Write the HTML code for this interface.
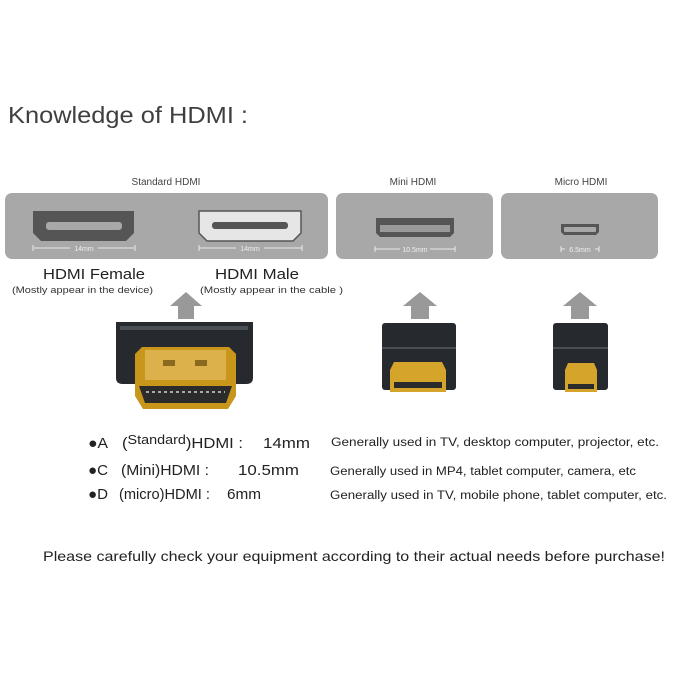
<!DOCTYPE html>
<html><head><meta charset="utf-8"><style>
html,body{margin:0;padding:0;background:#fff;}
svg{display:block;}
</style></head><body>
<svg width="680" height="680" viewBox="0 0 680 680" xmlns="http://www.w3.org/2000/svg" font-family="Liberation Sans, DejaVu Sans, sans-serif">
<rect width="680" height="680" fill="#fff"/>
<text x="8" y="123" font-size="23" fill="#3f3f3f" textLength="240" lengthAdjust="spacingAndGlyphs">Knowledge of HDMI :</text>

<text x="166" y="185" font-size="10" fill="#444" text-anchor="middle">Standard HDMI</text>
<text x="413" y="185" font-size="10" fill="#444" text-anchor="middle">Mini HDMI</text>
<text x="581" y="185" font-size="10" fill="#444" text-anchor="middle">Micro HDMI</text>

<rect x="5" y="193" width="323" height="66" rx="7" fill="#a8a8a8"/>
<rect x="336" y="193" width="157" height="66" rx="7" fill="#a8a8a8"/>
<rect x="501" y="193" width="157" height="66" rx="7" fill="#a8a8a8"/>

<path d="M33 211 H134 V233 L126 241 H41 L33 233 Z" fill="#555"/>
<rect x="46" y="222" width="76" height="8" rx="3" fill="#a8a8a8"/>
<path d="M199 211 H301 V233 L293 241 H207 L199 233 Z" fill="#e6e6e6" stroke="#555" stroke-width="1.5"/>
<rect x="212" y="222" width="76" height="7" rx="3" fill="#555"/>
<g stroke="#e8e8e8" stroke-width="1" fill="none">
<path d="M33 248 H135 M33 245 V251 M135 245 V251"/>
<path d="M199 248 H302 M199 245 V251 M302 245 V251"/>
<path d="M375 249 H455 M375 246 V252 M455 246 V252"/>
<path d="M561 249 H599 M561 246 V252 M599 246 V252"/>
</g>
<g font-size="7" fill="#f0f0f0" text-anchor="middle">
<rect x="70" y="244" width="28" height="8" fill="#a8a8a8"/>
<text x="84" y="251">14mm</text>
<rect x="236" y="244" width="28" height="8" fill="#a8a8a8"/>
<text x="250" y="251">14mm</text>
<rect x="400" y="245" width="30" height="8" fill="#a8a8a8"/>
<text x="415" y="252">10.5mm</text>
<rect x="565" y="245" width="30" height="8" fill="#a8a8a8"/>
<text x="580" y="252">6.5mm</text>
</g>
<path d="M376 218 H454 V233 L450 237 H380 L376 233 Z" fill="#555"/>
<rect x="380" y="225" width="70" height="7" fill="#9a9a9a"/>
<path d="M561 224 H599 V232 L596 235 H564 L561 232 Z" fill="#555"/>
<rect x="564" y="227" width="32" height="5" rx="1" fill="#a8a8a8"/>

<text x="43" y="279" font-size="15" fill="#222" textLength="102" lengthAdjust="spacingAndGlyphs">HDMI Female</text>
<text x="215" y="279" font-size="15" fill="#222" textLength="84" lengthAdjust="spacingAndGlyphs">HDMI Male</text>
<text x="12" y="293" font-size="9.5" fill="#333" textLength="141" lengthAdjust="spacingAndGlyphs">(Mostly appear in the device)</text>
<text x="200" y="293" font-size="9.5" fill="#333" textLength="143" lengthAdjust="spacingAndGlyphs">(Mostly appear in the cable  )</text>

<g fill="#999">
<path d="M186 292 L202 306 H194 V319 H178 V306 H170 Z"/>
<path d="M420 292 L437 306 H429 V319 H411 V306 H403 Z"/>
<path d="M580 292 L597 306 H589 V319 H571 V306 H563 Z"/>
</g>

<path d="M116 322 H253 V378 Q253 384 246 384 H123 Q116 384 116 378 Z" fill="#262a2e"/>
<rect x="120" y="326" width="128" height="4" fill="#4a4f55"/>
<path d="M142 347 H229 L236 354 V396 L228 409 H143 L135 396 V354 Z" fill="#c9961c"/>
<path d="M145 350 H226 V380 H145 Z" fill="#dcb04a"/>
<path d="M139 386 H232 L226 403 H145 Z" fill="#2b2b2b"/>
<path d="M146 392 H225" stroke="#aaa" stroke-width="2" stroke-dasharray="3 3"/>
<rect x="163" y="360" width="12" height="6" fill="#8a6a20"/>
<rect x="195" y="360" width="12" height="6" fill="#8a6a20"/>
<rect x="382" y="323" width="74" height="67" rx="3" fill="#262a2e"/>
<rect x="382" y="347" width="74" height="2" fill="#4a4f55"/>
<path d="M394 362 H442 L446 370 V392 H390 V370 Z" fill="#d4a52a"/>
<rect x="394" y="382" width="48" height="6" fill="#2b2b2b"/>
<rect x="553" y="323" width="55" height="67" rx="3" fill="#262a2e"/>
<rect x="553" y="347" width="55" height="2" fill="#4a4f55"/>
<path d="M568 363 H594 L597 370 V392 H565 V370 Z" fill="#d4a52a"/>
<rect x="568" y="384" width="26" height="5" fill="#2b2b2b"/>

<g fill="#222" font-size="15">
<text x="88" y="448" textLength="20" lengthAdjust="spacingAndGlyphs">●A</text>
<text x="122" y="448" textLength="121" lengthAdjust="spacingAndGlyphs">(<tspan font-size="13" dy="-4">Standard</tspan><tspan dy="4">)HDMI :</tspan></text>
<text x="263" y="448" textLength="47" lengthAdjust="spacingAndGlyphs">14mm</text>
<text x="88" y="475" textLength="20" lengthAdjust="spacingAndGlyphs">●C</text>
<text x="121" y="475" textLength="88" lengthAdjust="spacingAndGlyphs">(Mini)HDMI :</text>
<text x="238" y="475" textLength="61" lengthAdjust="spacingAndGlyphs">10.5mm</text>
<text x="88" y="499" textLength="20" lengthAdjust="spacingAndGlyphs">●D</text>
<text x="119" y="499" textLength="91" lengthAdjust="spacingAndGlyphs">(micro)HDMI :</text>
<text x="227" y="499" textLength="34" lengthAdjust="spacingAndGlyphs">6mm</text>
</g>
<g fill="#222">
<text x="331" y="446" font-size="11.5" textLength="328" lengthAdjust="spacingAndGlyphs">Generally used in TV, desktop computer, projector, etc.</text>
<text x="330" y="475" font-size="11.5" textLength="306" lengthAdjust="spacingAndGlyphs">Generally used in MP4, tablet computer, camera, etc</text>
<text x="330" y="499" font-size="11.5" textLength="337" lengthAdjust="spacingAndGlyphs">Generally used in TV, mobile phone, tablet computer, etc.</text>
<text x="43" y="561" font-size="14" textLength="622" lengthAdjust="spacingAndGlyphs">Please carefully check your equipment according to their actual needs before purchase!</text>
</g>
</svg>
</body></html>
